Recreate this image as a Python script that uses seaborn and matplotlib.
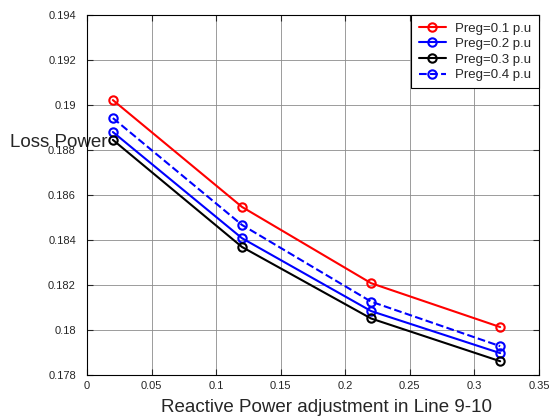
import pandas as pd
import seaborn as sns
import matplotlib.pyplot as plt

# Data
q_adjust = [0.02, 0.12, 0.22, 0.32]
preg_01 = [0.19022, 0.18547, 0.18208, 0.18013]
preg_02 = [0.18880, 0.18408, 0.18084, 0.17897]
preg_03 = [0.18845, 0.18369, 0.18051, 0.17861]
preg_04 = [0.18942, 0.18467, 0.18126, 0.17928]
labels = ['Preg=0.1 p.u', 'Preg=0.2 p.u', 'Preg=0.3 p.u', 'Preg=0.4 p.u']
x_ticks = [0, 0.05, 0.1, 0.15, 0.2, 0.25, 0.3, 0.35]
y_ticks = [0.178, 0.18, 0.182, 0.184, 0.186, 0.188, 0.19, 0.192, 0.194]

sns.set_style('white')
plt.rcParams['font.family'] = ['Liberation Sans', 'DejaVu Sans']

fig = plt.figure(figsize=(5.51, 4.18), dpi=100)
ax = fig.add_axes([0.158, 0.103, 0.82, 0.861])

series = [preg_01, preg_02, preg_03, preg_04]
colors = ['#ff0000', '#0000ff', '#000000', '#0000ff']
styles = ['-', '-', '-', '--']
for vals, lab, c, ls in zip(series, labels, colors, styles):
    df = pd.DataFrame({'x': q_adjust, 'y': vals})
    sns.lineplot(data=df, x='x', y='y', ax=ax, color=c, linestyle=ls,
                 marker='o', markersize=6, markerfacecolor='none',
                 markeredgecolor=c, markeredgewidth=1.5, linewidth=1.5,
                 label=lab)

ax.set_xlim(0, 0.35)
ax.set_ylim(0.178, 0.194)
ax.set_xticks(x_ticks)
ax.set_xticklabels(['0', '0.05', '0.1', '0.15', '0.2', '0.25', '0.3', '0.35'])
ax.set_yticks(y_ticks)
ax.set_yticklabels(['0.178', '0.18', '0.182', '0.184', '0.186', '0.188',
                    '0.19', '0.192', '0.194'])
ax.tick_params(labelsize=8, direction='in', length=4, width=0.8,
               top=True, right=True, bottom=True, left=True)
ax.tick_params(axis='y', pad=8)
ax.tick_params(axis='x', pad=4)
ax.grid(True, color='0.55', linewidth=0.6)
for s in ax.spines.values():
    s.set_color('black')
    s.set_linewidth(0.8)

ax.set_xlabel('Reactive Power adjustment in Line 9-10', fontsize=13.5,
              va='center')
ax.xaxis.set_label_coords(0.531, -0.09)
ax.set_ylabel('Loss Power', fontsize=13.5, rotation=0, ha='center', va='center')
ax.yaxis.set_label_coords(-0.062, 0.645)

leg = ax.legend(loc='upper right', fontsize=9.5, frameon=True, fancybox=False,
                edgecolor='black', framealpha=1, borderaxespad=0,
                handlelength=2.1, handletextpad=0.7, labelspacing=0.25,
                borderpad=0.55)
leg.get_frame().set_linewidth(0.8)

fig.savefig('out.png', dpi=100)
